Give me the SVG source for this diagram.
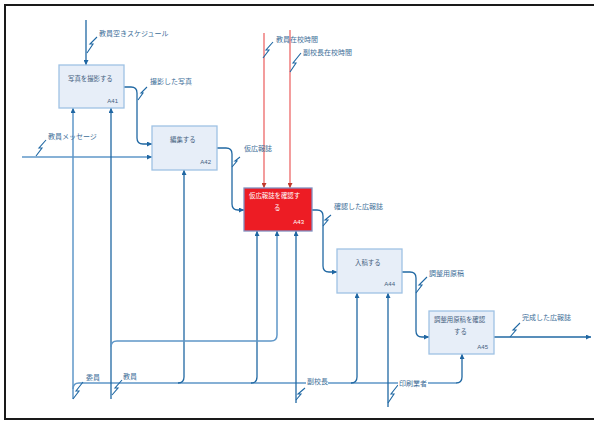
<svg xmlns="http://www.w3.org/2000/svg" xmlns:xlink="http://www.w3.org/1999/xlink" width="594" height="421" viewBox="0 0 594 421">
<style>
.box{fill:#e7eef8;stroke:#9fc2e4;stroke-width:1.3}
.red{fill:#ed1c24;stroke:#8190c0;stroke-width:1.3}
.bt{font-family:"Noto Sans CJK JP","Noto Sans",sans-serif;font-size:6.4px;fill:#44607e}
.wt{font-family:"Noto Sans CJK JP","Noto Sans",sans-serif;font-size:6.4px;fill:#ffffff}
.id{font-family:"Liberation Sans",Arial,sans-serif;font-size:6px;fill:#44607e;text-anchor:end}
.idw{font-family:"Liberation Sans",Arial,sans-serif;font-size:6px;fill:#ffffff;text-anchor:end}
.lb{font-family:"Noto Sans CJK JP","Noto Sans",sans-serif;font-size:7px;fill:#3d6e98}
.ln{fill:none;stroke:#2068a3;stroke-width:1.3}
.lt{fill:none;stroke:#5f97c8;stroke-width:1.5}
.rl{fill:none;stroke:#f08484;stroke-width:1.6}
.sq{fill:none;stroke:#2068a3;stroke-width:1.1}
</style>
<defs>
<marker id="ah" viewBox="0 0 8 8" refX="8" refY="4" markerWidth="5" markerHeight="5" orient="auto" markerUnits="userSpaceOnUse"><path d="M0,0 L8,4 L0,8 z" fill="#1f66a2"/></marker>
<marker id="ahr" viewBox="0 0 8 8" refX="8" refY="4" markerWidth="5" markerHeight="5" orient="auto" markerUnits="userSpaceOnUse"><path d="M0,0 L8,4 L0,8 z" fill="#c0392b"/></marker>
</defs>
<rect x="5" y="5" width="600" height="414" fill="#ffffff" stroke="#1a1a1a" stroke-width="2"/>

<g id="connectors">
  <!-- input schedule -->
  <path class="ln" d="M86,20 V65" marker-end="url(#ah)"/>
  <!-- A41 -> A42 -->
  <path class="ln" d="M124,87 H131 Q137,87 137,93 V138 Q137,144 143,144 H152" marker-end="url(#ah)"/>
  <!-- message input -->
  <path class="lt" d="M22,157 H152" marker-end="url(#ah)"/>
  <!-- A42 -> A43 -->
  <path class="ln" d="M217,148 H226 Q232,148 232,154 V204 Q232,210 238,210 H244" marker-end="url(#ah)"/>
  <!-- controls -->
  <path class="rl" d="M264,33 V188" marker-end="url(#ahr)"/>
  <path class="rl" d="M290,30 V188" marker-end="url(#ahr)"/>
  <!-- A43 -> A44 -->
  <path class="ln" d="M312,210 H317 Q323,210 323,216 V266 Q323,272 329,272 H337" marker-end="url(#ah)"/>
  <!-- A44 -> A45 -->
  <path class="ln" d="M402,272 H410 Q416,272 416,278 V331 Q416,337 422,337 H429" marker-end="url(#ah)"/>
  <!-- output -->
  <path class="ln" d="M494,337 H591" marker-end="url(#ah)"/>
  <!-- mechanisms -->
  <path class="lt" d="M73,399 V108" marker-end="url(#ah)"/>
  <path class="lt" d="M73,389 Q73,383 79,383 H456"/>
  <path class="ln" d="M456,383 Q462,383 462,377 V354" marker-end="url(#ah)"/>
  <path class="ln" d="M178,383 Q184,383 184,377 V170" marker-end="url(#ah)"/>
  <path class="ln" d="M251,383 Q257,383 257,377 V231" marker-end="url(#ah)"/>
  <path class="ln" d="M351,383 Q357,383 357,377 V293" marker-end="url(#ah)"/>
  <path class="ln" d="M111,399 V108" marker-end="url(#ah)"/>
  <path class="lt" d="M111,347 Q111,341 117,341 H271 Q277,341 277,335 V231" marker-end="url(#ah)"/>
  <path class="ln" d="M296,403 V231" marker-end="url(#ah)"/>
  <path class="ln" d="M388,407 V293" marker-end="url(#ah)"/>
  <!-- squiggles -->
  <path class="sq" d="M87,53 L93,44 L90,44 L97,37"/>
  <path class="sq" d="M138,100 L143,93 L141,93 L147,87"/>
  <path class="sq" d="M36,156 L42,148 L39,148 L46,140"/>
  <path class="sq" d="M232,167 L237,161 L235,161 L240,157"/>
  <path class="sq" d="M263,58 L269,50 L266,50 L273,42"/>
  <path class="sq" d="M290,72 L296,63 L293,63 L301,53"/>
  <path class="sq" d="M323,226 L328,220 L325,220 L331,215"/>
  <path class="sq" d="M416,293 L422,285 L419,285 L427,277"/>
  <path class="sq" d="M510,337 L516,330 L513,330 L520,323"/>
  <path class="sq" d="M73,399 L79,391 L76,391 L83,382"/>
  <path class="sq" d="M112,395 L118,388 L115,388 L122,380"/>
  <path class="sq" d="M296,400 L301,394 L298,394 L305,388"/>
  <path class="sq" d="M388,403 L394,394 L391,394 L398,385"/>
  <!-- labels -->
  <text class="lb" x="99" y="35.5">教員空きスケジュール</text>
  <text class="lb" x="150" y="83.5">撮影した写真</text>
  <text class="lb" x="48" y="138.5">教員メッセージ</text>
  <text class="lb" x="244" y="150.5">仮広報誌</text>
  <text class="lb" x="276" y="41.5">教員在校時間</text>
  <text class="lb" x="303" y="54.5">副校長在校時間</text>
  <text class="lb" x="334" y="208.5">確認した広報誌</text>
  <text class="lb" x="429" y="275.5">調整用原稿</text>
  <text class="lb" x="522" y="319.5">完成した広報誌</text>
  <text class="lb" x="86" y="379.5">委員</text>
  <text class="lb" x="123" y="378.5">教員</text>
  <rect x="306" y="377" width="22" height="9" fill="#ffffff"/>
  <text class="lb" x="307" y="384">副校長</text>
  <rect x="398" y="379" width="30" height="9" fill="#ffffff"/>
  <text class="lb" x="399" y="386">印刷業者</text>
</g>

<g id="A41">
  <rect class="box" x="59" y="65" width="65" height="43"/>
  <text class="bt" x="68" y="80.5">写真を撮影する</text>
  <text class="id" x="118" y="102.5">A41</text>
</g>
<g id="A42">
  <rect class="box" x="152" y="126" width="65" height="44"/>
  <text class="bt" x="170" y="141.5">編集する</text>
  <text class="id" x="211" y="164">A42</text>
</g>
<g id="A43">
  <rect class="red" x="244" y="188" width="68" height="43"/>
  <text class="wt" x="249" y="197.5">仮広報誌を確認す</text>
  <text class="wt" x="274" y="209.5">る</text>
  <text class="idw" x="304" y="224">A43</text>
</g>
<g id="A44">
  <rect class="box" x="337" y="249" width="65" height="44"/>
  <text class="bt" x="355" y="264.5">入稿する</text>
  <text class="id" x="395" y="286">A44</text>
</g>
<g id="A45">
  <rect class="box" x="429" y="311" width="65" height="43"/>
  <text class="bt" x="434" y="321.5">調整用原稿を確認</text>
  <text class="bt" x="454" y="333.5">する</text>
  <text class="id" x="488" y="349">A45</text>
</g>
</svg>
